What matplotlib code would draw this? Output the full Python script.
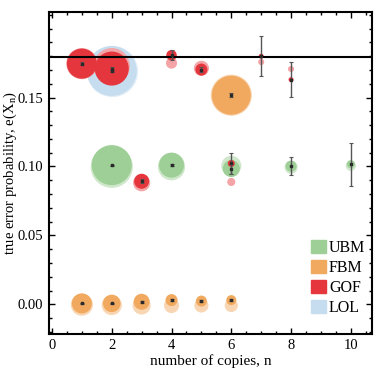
import numpy as np
import matplotlib
matplotlib.use('Agg')
import matplotlib.pyplot as plt
from matplotlib.patches import Patch
from matplotlib.ticker import MultipleLocator

plt.rcParams['font.family'] = ['Liberation Serif', 'DejaVu Serif']
plt.rcParams['mathtext.fontset'] = 'custom'
plt.rcParams['mathtext.rm'] = 'Liberation Serif'

# bubble data: n, centre value, shadow value, bubble diameter (px), shadow diameter, error
gof_n = [1, 2, 3, 4, 5, 6, 7, 8]
gof_val = [0.1746, 0.1710, 0.0893, 0.1807, 0.1703, 0.1022, 0.1800, 0.1630]
gof_shadow = [0.1746, 0.1728, 0.0882, 0.1750, 0.1712, 0.0888, 0.1758, 0.1707]
gof_size = [30, 34, 15, 10.5, 12, 7, 5, 5]
gof_shadow_size = [30, 35, 16, 10, 14, 7, 5, 5]
gof_err = [0.0010, 0.0010, 0.0015, 0.0036, 0.0020, 0.0077, 0.0145, 0.0127]

ubm_n = [2, 4, 6, 8, 10]
ubm_val = [0.1010, 0.1010, 0.0985, 0.1002, 0.1017]
ubm_shadow = [0.0998, 0.0998, 0.1005, 0.0995, 0.1005]
ubm_size = [40, 25, 17, 11, 8]
ubm_shadow_size = [41, 26, 19, 12, 9]
ubm_err = [0.0004, 0.0008, 0.0036, 0.0064, 0.0155]

fbm_n = [1, 2, 3, 4, 5, 6, 6]
fbm_val = [0.0007, 0.0007, 0.0019, 0.0031, 0.0024, 0.0031, 0.1517]
fbm_shadow = [-0.0002, -0.0005, -0.0008, -0.0008, -0.0008, -0.0008, 0.1517]
fbm_size = [20, 17.5, 16, 12, 11, 10, 39]
fbm_shadow_size = [21, 19, 17, 14, 13, 12, 40]
fbm_err = [0.0003, 0.0003, 0.0008, 0.0010, 0.0008, 0.0010, 0.0015]

lol_n = [2]
lol_val = [0.1693]
lol_shadow = [0.1693]
lol_size = [50]
lol_shadow_size = [50]
lol_err = [0.0005]

threshold = 0.1794

colors = {'UBM': '#9ecf96', 'FBM': '#f0a95e', 'GOF': '#e4363c', 'LOL': '#c6ddef'}
light = {'UBM': '#cfe7cb', 'FBM': '#f9d6b3', 'GOF': '#f4a4a6', 'LOL': '#e0edf7'}

fig = plt.figure(figsize=(3.74, 3.77), dpi=100)
ax = fig.add_axes([0.131, 0.114, 0.863, 0.854])


def px2s(d):
    return (np.array(d) * 0.72) ** 2


series = [
    ('LOL', lol_n, lol_val, lol_shadow, lol_size, lol_shadow_size, lol_err),
    ('UBM', ubm_n, ubm_val, ubm_shadow, ubm_size, ubm_shadow_size, ubm_err),
    ('FBM', fbm_n, fbm_val, fbm_shadow, fbm_size, fbm_shadow_size, fbm_err),
    ('GOF', gof_n, gof_val, gof_shadow, gof_size, gof_shadow_size, gof_err),
]

z = 2
for name, n, v, sh, s, ss, e in series:
    ax.scatter(n, sh, s=px2s(ss), color=light[name], edgecolors=light[name],
               linewidths=0.8, zorder=z)
    ax.scatter(n, v, s=px2s(s), color=colors[name], edgecolors='none', zorder=z + 0.5)
    z += 1

for name, n, v, sh, s, ss, e in series:
    ax.errorbar(n, v, yerr=e, fmt='s', ms=1.8, color='#2a2a2a', ecolor='#555555',
                elinewidth=1.0, capsize=1.5, capthick=0.8, zorder=10)

ax.axhline(threshold, color='black', lw=1.5, zorder=9)

ax.set_xlim(-0.1, 10.7)
ax.set_ylim(-0.0215, 0.212)
ax.set_xticks([0, 2, 4, 6, 8, 10])
ax.set_yticks([0.0, 0.05, 0.10, 0.15])
ax.set_yticklabels(['0.00', '0.05', '0.10', '0.15'])
ax.xaxis.set_minor_locator(MultipleLocator(0.5))
ax.yaxis.set_minor_locator(MultipleLocator(0.01))
ax.tick_params(which='both', direction='in', top=True, right=True, labelsize=10.5, width=1.0)
ax.tick_params(which='major', length=4)
ax.tick_params(which='minor', length=2)
ax.tick_params(axis='y', pad=4)
for sp in ax.spines.values():
    sp.set_linewidth(1.5)

ax.set_xlabel('number of copies, n', fontsize=11, labelpad=2)
ax.set_ylabel(r'true error probability, e(X$_{\mathrm{n}}$)', fontsize=10.5)
ax.yaxis.set_label_coords(-0.092, 0.5)

handles = [Patch(color=colors[k], label=k) for k in ['UBM', 'FBM', 'GOF', 'LOL']]
ax.legend(handles=handles, loc='lower right', bbox_to_anchor=(1.0, 0.035), frameon=False,
          fontsize=11.5, handlelength=0.9, handleheight=0.9, handletextpad=0.2,
          labelspacing=0.25, borderaxespad=0.0)

fig.savefig('out.png', dpi=100)
